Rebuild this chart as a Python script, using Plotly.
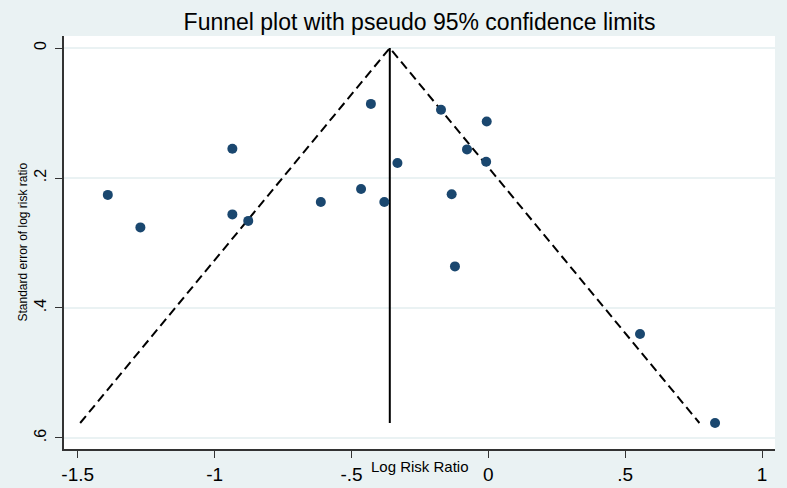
import plotly.graph_objects as go

# Study estimates (log risk ratio) and their standard errors
log_rr = [-1.390, -1.271, -0.935, -0.935, -0.877, -0.612, -0.465, -0.429, -0.380,
          -0.332, -0.173, -0.006, -0.078, -0.008, -0.134, -0.122, 0.554, 0.828]
se_log_rr = [0.226, 0.276, 0.155, 0.256, 0.266, 0.237, 0.217, 0.086, 0.237,
             0.177, 0.095, 0.113, 0.156, 0.175, 0.225, 0.336, 0.440, 0.577]

pooled = -0.36
z95 = 1.96

x_ticks = [-1.5, -1, -0.5, 0, 0.5, 1]
x_tick_labels = ["-1.5", "-1", "-.5", "0", ".5", "1"]
y_ticks = [0, 0.2, 0.4, 0.6]
y_tick_labels = ["0", ".2", ".4", ".6"]

se_max = max(se_log_rr)

bg = "#EAF2F3"
font_family = "Liberation Sans, Arial, sans-serif"

fig = go.Figure()

# pseudo 95% confidence limits
fig.add_trace(go.Scatter(
    x=[pooled - z95 * se_max, pooled, pooled + z95 * se_max],
    y=[se_max, 0, se_max],
    mode="lines",
    line=dict(color="black", width=2, dash="9px,5px"),
    hoverinfo="skip", showlegend=False,
))
# pooled estimate line
fig.add_trace(go.Scatter(
    x=[pooled, pooled], y=[0, se_max],
    mode="lines", line=dict(color="black", width=2),
    hoverinfo="skip", showlegend=False,
))
# studies
fig.add_trace(go.Scatter(
    x=log_rr, y=se_log_rr, mode="markers",
    marker=dict(color="#1A476F", size=10),
    showlegend=False,
))

fig.update_layout(
    width=787, height=488,
    margin=dict(l=64, r=12, t=36, b=39),
    paper_bgcolor=bg, plot_bgcolor="white",
    font=dict(family=font_family, color="black"),
    title=dict(text="Funnel plot with pseudo 95% confidence limits",
               x=0.5, xref="paper", y=0.955, yref="container", yanchor="middle",
               font=dict(size=23, family=font_family, color="black")),
    showlegend=False,
)

fig.update_xaxes(
    range=[-1.55, 1.047], autorange=False, automargin=False,
    tickvals=x_ticks, ticktext=x_tick_labels,
    ticks="outside", ticklen=7, tickwidth=1, tickcolor="#333333",
    tickfont=dict(size=19),
    showline=True, linecolor="#333333", linewidth=1.5,
    showgrid=False, zeroline=False,
)
fig.update_yaxes(
    range=[0.617, -0.0185], autorange=False, automargin=False,
    tickvals=y_ticks, ticktext=y_tick_labels, tickangle=-90,
    ticks="outside", ticklen=7, tickwidth=1, tickcolor="#333333",
    tickfont=dict(size=16), ticklabelstandoff=3,
    showline=True, linecolor="#333333", linewidth=1.5,
    showgrid=True, gridcolor=bg, gridwidth=1.5, zeroline=False,
)

fig.add_annotation(
    text="Standard error of log risk ratio", textangle=-90,
    xref="paper", yref="paper", x=-0.059, y=0.5,
    xanchor="center", yanchor="middle",
    showarrow=False, font=dict(size=12, color="black"),
)
fig.add_annotation(
    text="Log Risk Ratio", xref="paper", yref="paper",
    x=0.5, y=-0.042, xanchor="center", yanchor="middle",
    showarrow=False, font=dict(size=15, color="black"),
)

fig.write_html("out.html", post_script="document.body.style.margin='0';",
               config={"displayModeBar": False})
